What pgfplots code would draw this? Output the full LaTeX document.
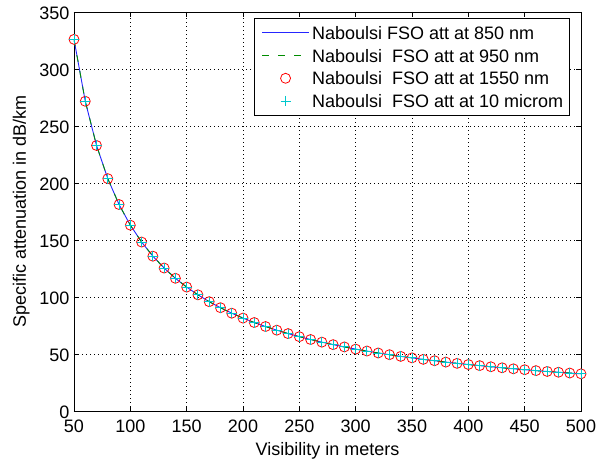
\documentclass[border=0pt]{standalone}
\usepackage{pgfplots}
\pgfplotsset{compat=1.18}
\usepackage{pgfplotstable}
\usepackage{fontspec}
\setmainfont{Liberation Sans}
\pgfplotstableread{
V A
50 326.0
60 271.7
70 232.9
80 203.8
90 181.1
100 163.0
110 148.2
120 135.8
130 125.4
140 116.4
150 108.7
160 101.9
170 95.9
180 90.6
190 85.8
200 81.5
210 77.6
220 74.1
230 70.9
240 67.9
250 65.2
260 62.7
270 60.4
280 58.2
290 56.2
300 54.3
310 52.6
320 50.9
330 49.4
340 47.9
350 46.6
360 45.3
370 44.1
380 42.9
390 41.8
400 40.8
410 39.8
420 38.8
430 37.9
440 37.0
450 36.2
460 35.4
470 34.7
480 34.0
490 33.3
500 32.6
}\datatab
\definecolor{mblue}{rgb}{0.15,0.15,1}
\definecolor{mgreen}{rgb}{0,0.55,0}
\definecolor{mcyan}{rgb}{0,0.78,0.8}
\pgfplotsset{
  longline/.style={legend image code/.code={\path[draw=none,fill=none] (0pt,0pt) rectangle (50.5pt,0pt); \draw[##1] (3.5pt,0pt) -- (50.5pt,0pt);}},
  midmark/.style={legend image code/.code={\path[draw=none,fill=none] (0pt,0pt) rectangle (50.5pt,0pt); \draw[##1] plot coordinates {(27pt,0pt)};}},
}
\begin{document}
\begin{tikzpicture}
\begin{axis}[
  scale only axis,
  width=507pt, height=399pt,
  xmin=50, xmax=500, ymin=0, ymax=350,
  xtick={50,100,...,500}, ytick={0,50,...,350},
  tick align=inside,
  tick pos=both,
  major tick length=5pt,
  grid=major,
  major grid style={black, line width=0.6pt, dash pattern=on 0.8pt off 3.2pt},
  axis line style={black, line width=0.9pt},
  tick style={black, line width=0.6pt},
  /pgf/number format/assume math mode=true,
  tick label style={font=\fontsize{18}{21}\selectfont},
  xticklabel style={yshift=-5.5pt},
  yticklabel style={yshift=-1.5pt, xshift=-1pt},
  label style={font=\fontsize{18}{21}\selectfont},
  xlabel={Visibility in meters},
  ylabel={Specific attenuation in dB/km},
  xlabel style={yshift=-2.5pt},
  ylabel style={yshift=3pt},
  legend style={at={(rel axis cs:1,1)}, xshift=-11pt, yshift=-6pt, anchor=north east,
    font=\fontsize{18}{21}\selectfont, draw=black, line width=0.8pt,
    inner sep=4pt, row sep=1.7pt, column sep=0pt,
    nodes={inner xsep=2.5pt, inner ysep=4pt, text height=13pt, text depth=0pt},
    cells={anchor=west}},
  legend cell align=left,
]
\coordinate (ll) at (rel axis cs:0,0);
\coordinate (ur) at (rel axis cs:1,1);
\addplot[mblue, draw=mblue, line width=0.9pt, no markers, longline] table[x=V,y=A] {\datatab};
\addlegendentry{Naboulsi FSO att at 850 nm}
\addplot[mgreen, draw=mgreen, line width=0.9pt, dash pattern=on 7pt off 9pt, no markers, longline] table[x=V,y=A] {\datatab};
\addlegendentry{Naboulsi\ \ FSO att at 950 nm}
\addplot[red, draw=red, only marks, mark=o, mark size=5pt, line width=0.8pt, midmark] table[x=V,y=A] {\datatab};
\addlegendentry{Naboulsi\ \ FSO att at 1550 nm}
\addplot[mcyan, draw=mcyan, only marks, mark=+, mark size=5pt, line width=0.9pt, midmark] table[x=V,y=A] {\datatab};
\addlegendentry{Naboulsi\ \ FSO att at 10 microm}
\end{axis}
\pgfresetboundingbox
\path ([shift={(-74pt,-51pt)}]ll) rectangle ([shift={(15pt,12pt)}]ur);
\end{tikzpicture}
\end{document}
